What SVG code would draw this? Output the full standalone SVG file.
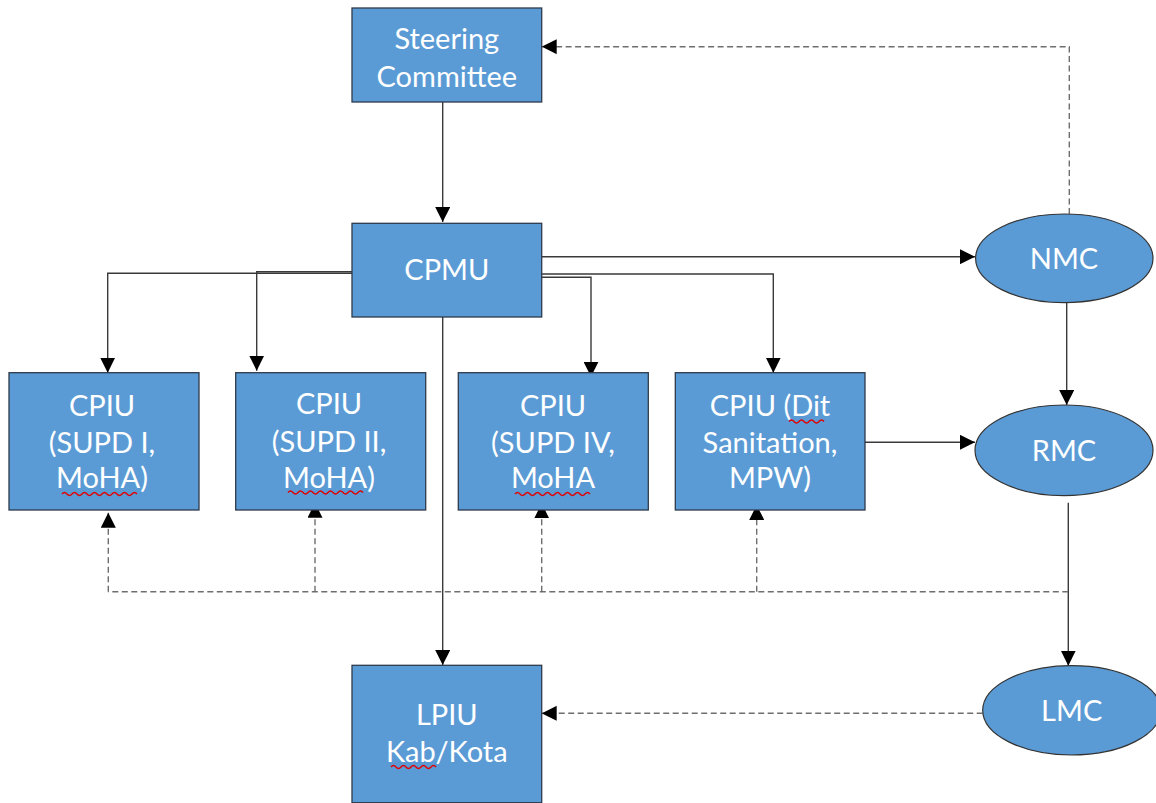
<svg xmlns="http://www.w3.org/2000/svg" width="1156" height="803" viewBox="0 0 1156 803">
<style>
.box{fill:#5B9BD5;stroke:#2E3A4C;stroke-width:1.3}
.ell{fill:#5B9BD5;stroke:#333;stroke-width:1.2}
.lbl{font-family:Lato,"Open Sans","Noto Sans",sans-serif;font-size:29px;fill:#FFFFFF;text-anchor:middle}
.solid{fill:none;stroke:#3a3a3a;stroke-width:1.4}
.dash{fill:none;stroke:#6e6e6e;stroke-width:1.4;stroke-dasharray:6,3.5}
.sq{fill:none;stroke:#E00000;stroke-width:1.4}
</style>
<defs>
<marker id="ah" viewBox="0 0 10 10" refX="10" refY="5" markerWidth="15" markerHeight="15" markerUnits="userSpaceOnUse" orient="auto">
<path d="M0,0 L10,5 L0,10 z" fill="#000"/>
</marker>
</defs>
<rect width="1156" height="803" fill="#FFFFFF"/>
<g id="connectors">
<path class="solid" d="M442.7,102 V222" marker-end="url(#ah)"/>
<path class="solid" d="M541.7,256.7 H975" marker-end="url(#ah)"/>
<path class="solid" d="M352,273.3 H107.7 V372.7" marker-end="url(#ah)"/>
<path class="solid" d="M352,271.7 H256.7 V370.7" marker-end="url(#ah)"/>
<path class="solid" d="M541.7,277.3 H591 V376.7" marker-end="url(#ah)"/>
<path class="solid" d="M541.7,274 H773.3 V372.7" marker-end="url(#ah)"/>
<path class="solid" d="M442.7,317 V665" marker-end="url(#ah)"/>
<path class="solid" d="M1066.7,302.7 V405" marker-end="url(#ah)"/>
<path class="solid" d="M865,442.3 H975" marker-end="url(#ah)"/>
<path class="solid" d="M1068.3,502.7 V665.7" marker-end="url(#ah)"/>
<path class="dash" d="M1069.3,214 V46.7 H541.7" marker-end="url(#ah)"/>
<path class="dash" d="M1068.3,591.7 H108.3"/>
<path class="dash" d="M108.3,591.7 V512.7" marker-end="url(#ah)"/>
<path class="dash" d="M315,591.7 V502.7" marker-end="url(#ah)"/>
<path class="dash" d="M541.7,591.7 V503.3" marker-end="url(#ah)"/>
<path class="dash" d="M756.7,591.7 V505" marker-end="url(#ah)"/>
<path class="dash" d="M982.7,713.3 H541.7" marker-end="url(#ah)"/>
</g>
<g id="steering">
<rect class="box" x="352" y="8" width="189.7" height="94"/>
<text class="lbl" x="446.8" y="49.3">Steering</text>
<text class="lbl" x="446.8" y="87.3">Committee</text>
</g>
<g id="cpmu">
<rect class="box" x="352" y="223.3" width="189.7" height="93.7"/>
<text class="lbl" x="446.8" y="280">CPMU</text>
</g>
<g id="cpiu1">
<rect class="box" x="9" y="372.7" width="190" height="137.3"/>
<text class="lbl" x="102" y="416">CPIU</text>
<text class="lbl" x="102" y="453.3">(SUPD I,</text>
<text class="lbl" x="102" y="488.3">MoHA)</text>
</g>
<g id="cpiu2">
<rect class="box" x="235.7" y="372.7" width="190" height="137.3"/>
<text class="lbl" x="329" y="414">CPIU</text>
<text class="lbl" x="329" y="452">(SUPD II,</text>
<text class="lbl" x="329" y="487.5">MoHA)</text>
</g>
<g id="cpiu3">
<rect class="box" x="458.3" y="372.7" width="190" height="137.3"/>
<text class="lbl" x="553" y="416">CPIU</text>
<text class="lbl" x="553" y="453">(SUPD IV,</text>
<text class="lbl" x="553" y="488">MoHA</text>
</g>
<g id="cpiu4">
<rect class="box" x="675.3" y="372.7" width="189.7" height="137.3"/>
<text class="lbl" x="770" y="416">CPIU (Dit</text>
<text class="lbl" x="770" y="453">Sanitation,</text>
<text class="lbl" x="770" y="488">MPW)</text>
</g>
<g id="lpiu">
<rect class="box" x="352" y="665.3" width="189.7" height="137.4"/>
<text class="lbl" x="446.8" y="725">LPIU</text>
<text class="lbl" x="446.8" y="761.7">Kab/Kota</text>
</g>
<g id="nmc">
<ellipse class="ell" cx="1064.3" cy="258.3" rx="88.7" ry="44.3"/>
<text class="lbl" x="1064" y="269.3">NMC</text>
</g>
<g id="rmc">
<ellipse class="ell" cx="1064" cy="450.3" rx="89" ry="45.3"/>
<text class="lbl" x="1064" y="461">RMC</text>
</g>
<g id="lmc">
<ellipse class="ell" cx="1071.7" cy="710.3" rx="89" ry="44.7"/>
<text class="lbl" x="1071.7" y="720.7">LMC</text>
</g>
<g id="spellmarks">
<path class="sq" d="M62,494 q2.5,-3 5,0 t5,0 t5,0 t5,0 t5,0 t5,0 t5,0 t5,0 t5,0 t5,0 t5,0 t5,0 t5,0 t5,0 t5,0"/>
<path class="sq" d="M288,492.5 q2.5,-3 5,0 t5,0 t5,0 t5,0 t5,0 t5,0 t5,0 t5,0 t5,0 t5,0 t5,0 t5,0 t5,0 t5,0 t5,0"/>
<path class="sq" d="M515,494 q2.5,-3 5,0 t5,0 t5,0 t5,0 t5,0 t5,0 t5,0 t5,0 t5,0 t5,0 t5,0 t5,0 t5,0 t5,0 t5,0"/>
<path class="sq" d="M789,421.5 q2.5,-3 5,0 t5,0 t5,0 t5,0 t5,0 t5,0 t5,0"/>
<path class="sq" d="M391,767 q2.5,-3 5,0 t5,0 t5,0 t5,0 t5,0 t5,0 t5,0 t5,0 t5,0"/>
</g>
</svg>
